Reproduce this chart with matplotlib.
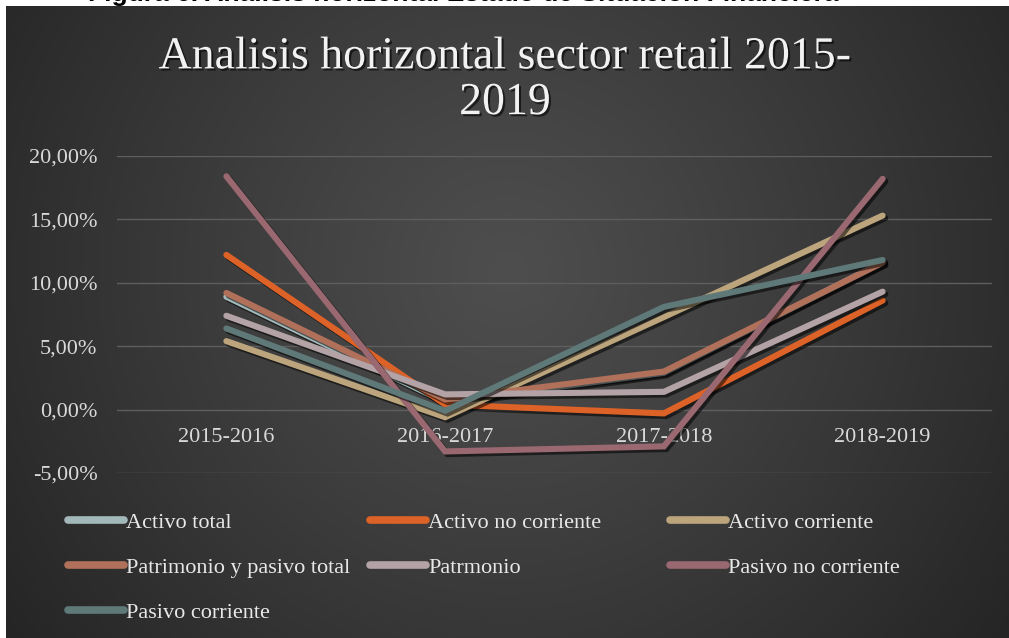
import numpy as np
import matplotlib
matplotlib.use("Agg")
import matplotlib.pyplot as plt
import matplotlib.patheffects as pe
from matplotlib.lines import Line2D
from matplotlib.ticker import FuncFormatter, MultipleLocator

# --- data -------------------------------------------------------------
periods = ["2015-2016", "2016-2017", "2017-2018", "2018-2019"]

activo_total = [8.9, 0.6, 2.9, 11.6]
activo_no_corriente = [12.2, 0.4, -0.3, 8.6]
activo_corriente = [5.4, -0.6, 7.3, 15.3]
patrimonio_pasivo_total = [9.2, 0.8, 3.0, 11.6]
patrimonio = [7.4, 1.2, 1.4, 9.3]
pasivo_no_corriente = [18.4, -3.3, -2.9, 18.2]
pasivo_corriente = [6.4, -0.1, 8.1, 11.8]

series_names = ["Activo total", "Activo no corriente", "Activo corriente",
                "Patrimonio y pasivo total", "Patrmonio", "Pasivo no corriente",
                "Pasivo corriente"]
series_values = [activo_total, activo_no_corriente, activo_corriente,
                 patrimonio_pasivo_total, patrimonio, pasivo_no_corriente,
                 pasivo_corriente]
series_colors = ["#A3B9B9", "#DD6228", "#BCA57C", "#B0705A", "#B3A3A6",
                 "#9A6870", "#5F7878"]

title_text = "Analisis horizontal sector retail 2015-\n2019"
caption_text = "Figura 6. Análisis horizontal Estado de Situación Financiera"

# --- figure -----------------------------------------------------------
W, H = 1009, 638
fig = plt.figure(figsize=(W / 100, H / 100), dpi=100, facecolor="white")
serif = ["Liberation Serif", "DejaVu Serif"]

# caption line above the chart (only its lower edge falls inside the canvas)
fig.text(88 / W, 1 - 1.0 / H, caption_text, ha="left", va="baseline",
         fontsize=19, fontweight="bold", color="black",
         family=["Liberation Sans", "DejaVu Sans"], zorder=0)

# dark radial-gradient chart background
bg = fig.add_axes([6 / W, 0, (W - 6) / W, (H - 6) / H])
bg.set_zorder(1)
bg.set_axis_off()
ny, nx = 316, 502
yy, xx = np.mgrid[0:1:ny * 1j, 0:1:nx * 1j]
r = np.sqrt(((xx - 0.5) * 1.0) ** 2 + ((yy - 0.42) * 0.63) ** 2)
r = r / r.max()
shade = 0x4E - (0x4E - 0x25) * np.clip(r, 0, 1) ** 1.1
img = np.dstack([shade, shade, shade]) / 255.0
bg.imshow(img, aspect="auto", extent=[0, 1, 0, 1], origin="upper",
          interpolation="bilinear")
bg.set_xlim(0, 1)
bg.set_ylim(0, 1)

# plot area
ax = fig.add_axes([117 / W, (H - 473) / H, 875 / W, 317 / H])
ax.set_zorder(2)
ax.set_facecolor("none")
x = np.arange(len(periods))

shadow = [pe.SimpleLineShadow(offset=(1.8, -1.8), shadow_color="black",
                              alpha=0.55, linewidth=4.6),
          pe.Normal()]
for name, vals, col in zip(series_names, series_values, series_colors):
    ax.plot(x, vals, color=col, lw=4.4, solid_capstyle="round",
            solid_joinstyle="miter", label=name, path_effects=shadow, zorder=3)

ax.set_xlim(-0.5, 3.5)
ax.set_ylim(-5, 20)
ax.yaxis.set_major_locator(MultipleLocator(5))
ax.yaxis.set_major_formatter(
    FuncFormatter(lambda v, p: f"{v:.2f}%".replace(".", ",")))
ax.grid(axis="y", color="#5E5E5E", lw=1.0, zorder=1)
ax.set_xticks(x)
ax.set_xticklabels(periods)
for s in ax.spines.values():
    s.set_visible(False)
ax.spines["bottom"].set_position(("data", 0))
ax.tick_params(axis="both", length=0, colors="#D9D9D9", labelsize=16)
ax.tick_params(axis="x", pad=13)
ax.tick_params(axis="y", pad=14)
for lbl in ax.get_xticklabels() + ax.get_yticklabels():
    lbl.set_family(serif)

# title
fig.text(505 / W, 1 - 80 / H, title_text, ha="center", va="center",
         fontsize=33, color="#F2F2F2", family=serif, linespacing=1.1,
         zorder=5,
         path_effects=[pe.withSimplePatchShadow(offset=(1.5, -1.5),
                                                shadow_rgbFace="black",
                                                alpha=0.6)])

# legend, laid out in three columns
handles = {n: Line2D([], [], color=c, lw=5.5, solid_capstyle="round")
           for n, c in zip(series_names, series_colors)}
columns = [
    (68, ["Activo total", "Patrimonio y pasivo total", "Pasivo corriente"]),
    (370, ["Activo no corriente", "Patrmonio"]),
    (670, ["Activo corriente", "Pasivo no corriente"]),
]
for xpos, names in columns:
    leg = fig.legend([handles[n] for n in names], names,
                     loc="upper left", bbox_to_anchor=(xpos / W, 1 - 512 / H),
                     frameon=False, handlelength=2.5,
                     handletextpad=0.12, labelspacing=1.1,
                     borderpad=0, borderaxespad=0,
                     prop={"family": serif, "size": 16})
    leg.set_zorder(5)
    for t in leg.get_texts():
        t.set_color("#E8E8E8")

fig.savefig("out.png", dpi=100, facecolor="white")
